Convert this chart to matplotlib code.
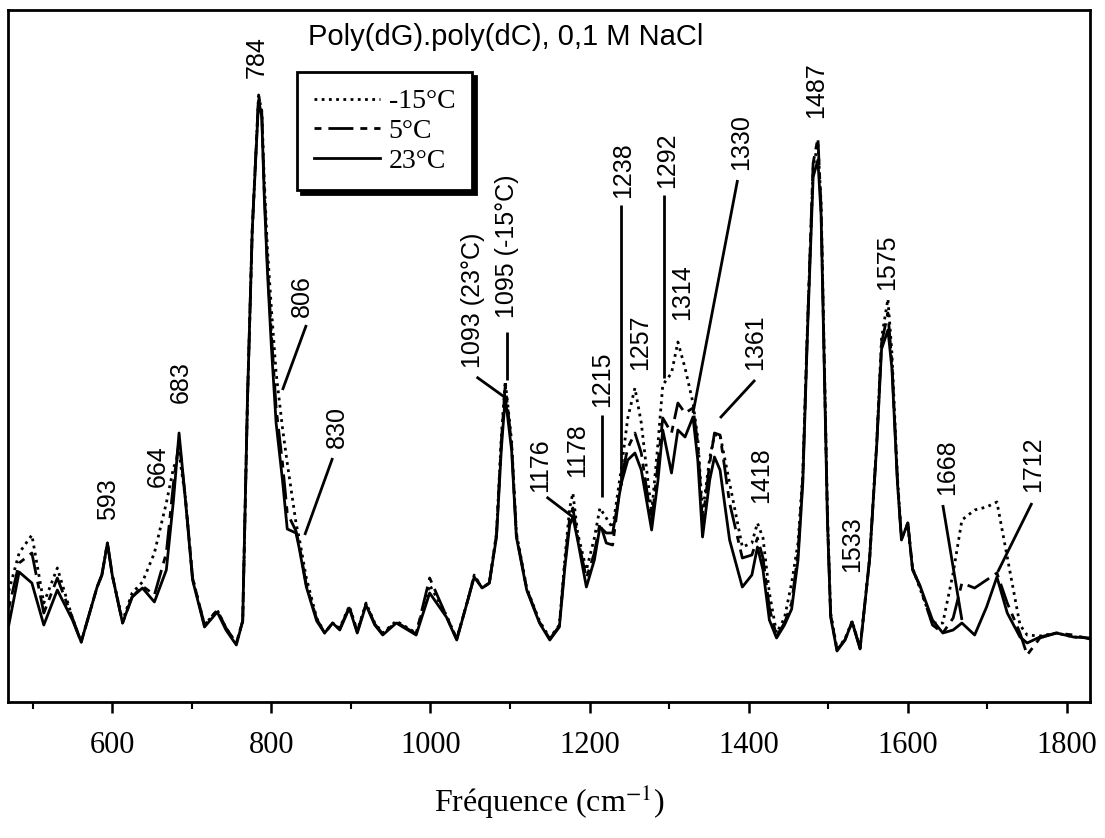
import matplotlib
matplotlib.use("Agg")
import matplotlib.pyplot as plt
from matplotlib.ticker import FixedLocator

plt.rcParams['mathtext.fontset'] = 'stix'

# wavenumber grid (cm-1)
freq = [470, 483, 499, 514, 531, 550, 561, 581, 587, 594, 600, 613, 625, 638, 653, 668,
        677, 684, 692, 701, 716, 732, 743, 756, 764, 770, 776, 784, 788, 791, 795, 800,
        806, 814, 820, 831, 835, 844, 857, 867, 877, 886, 898, 908, 919, 930, 940, 957,
        982, 999, 1020, 1033, 1047, 1055, 1065, 1074, 1083, 1089, 1094, 1102, 1108, 1121,
        1137, 1150, 1162, 1169, 1175, 1179, 1185, 1196, 1206, 1213, 1221, 1229, 1240, 1248,
        1257, 1265, 1278, 1286, 1292, 1303, 1311, 1320, 1330, 1336, 1342, 1351, 1357, 1364,
        1376, 1392, 1404, 1411, 1418, 1426, 1435, 1445, 1454, 1462, 1468, 1474, 1481, 1487,
        1491, 1495, 1499, 1503, 1511, 1521, 1530, 1540, 1552, 1561, 1567, 1575, 1580, 1587,
        1592, 1600, 1606, 1615, 1631, 1644, 1657, 1668, 1684, 1699, 1712, 1725, 1741, 1750,
        1766, 1787, 1808, 1829]

# 23 C (solid)
i_23 = [78, 131, 120, 78, 113, 83, 61, 116, 128, 160, 128, 80, 106, 115, 101, 133,
        203, 270, 203, 123, 76, 91, 73, 58, 82, 303, 473, 603, 586, 509, 433, 357,
        280, 223, 174, 170, 155, 116, 82, 70, 80, 73, 95, 70, 98, 78, 68, 80,
        68, 110, 86, 63, 103, 126, 115, 120, 166, 253, 306, 253, 166, 113,
        80, 63, 76, 136, 178, 186, 163, 116, 143, 176, 170, 170, 220, 243,
        250, 233, 173, 223, 273, 230, 273, 266, 286, 243, 166, 223, 246, 233,
        163, 116, 128, 156, 133, 83, 65, 78, 94, 143, 220, 373, 526, 543,
        488, 335, 182, 86, 52, 63, 81, 54, 144, 259, 354, 373, 335, 220,
        163, 180, 133, 118, 83, 70, 73, 80, 68, 96, 126, 90, 66, 60,
        66, 70, 66, 65]

# 5 C (dash-dot)
i_5 = [95, 140, 150, 90, 125, 85, 61, 116, 128, 160, 128, 80, 106, 117, 108, 150,
       220, 262, 205, 125, 78, 93, 75, 60, 82, 303, 473, 608, 590, 515, 440, 370,
       295, 240, 190, 172, 158, 118, 84, 70, 80, 74, 96, 71, 99, 79, 69, 81,
       69, 125, 87, 64, 103, 127, 115, 120, 168, 260, 318, 258, 168, 114,
       81, 64, 77, 140, 185, 195, 165, 125, 150, 180, 160, 158, 225, 255,
       270, 250, 180, 240, 285, 270, 300, 290, 295, 260, 180, 240, 270, 268,
       200, 145, 148, 165, 145, 95, 67, 80, 100, 150, 225, 378, 540, 565,
       495, 340, 185, 88, 53, 63, 81, 55, 144, 260, 360, 390, 340, 222,
       164, 180, 134, 117, 78, 70, 85, 120, 115, 123, 130, 100, 70, 48,
       65, 70, 68, 64]

# -15 C (dotted)
i_m15 = [112, 150, 168, 100, 135, 85, 61, 116, 128, 160, 128, 82, 110, 121, 150, 200,
         235, 250, 205, 125, 78, 93, 75, 60, 82, 303, 473, 607, 592, 525, 455, 395,
         330, 275, 240, 180, 165, 125, 85, 70, 80, 75, 97, 72, 100, 80, 70, 82,
         70, 118, 88, 64, 103, 128, 115, 120, 170, 265, 322, 262, 170, 115,
         82, 65, 78, 145, 195, 210, 170, 133, 165, 195, 185, 175, 235, 285,
         315, 280, 190, 260, 318, 330, 361, 335, 300, 265, 190, 245, 268, 268,
         220, 156, 160, 180, 165, 110, 70, 85, 120, 160, 230, 380, 535, 560,
         500, 345, 190, 90, 54, 64, 82, 55, 145, 262, 365, 404, 350, 225,
         166, 178, 135, 115, 80, 80, 130, 183, 193, 196, 201, 146, 78, 68,
         67, 70, 66, 65]

series_labels = ['-15°C', '5°C', '23°C']
major_ticks = [600, 800, 1000, 1200, 1400, 1600, 1800]
minor_ticks = [500, 700, 900, 1100, 1300, 1500, 1700]

# band labels: text, x, y of the text's lower end, optional leader line (from, to)
bands = [
    ('593', 595, 183, None),
    ('664', 657, 216, None),
    ('683', 686, 300, None),
    ('784', 782, 625, None),
    ('806', 838, 386, ((844, 378), (814, 313))),
    ('830', 882, 255, ((877, 245), (842, 168))),
    ('1093 (23°C)', 1054, 335, ((1058, 326), (1093, 306))),
    ('1095 (-15°C)', 1096, 385, ((1096, 371), (1096, 323))),
    ('1176', 1138, 211, ((1146, 206), (1179, 186))),
    ('1178', 1184, 226, None),
    ('1215', 1216, 296, ((1215, 288), (1215, 206))),
    ('1238', 1242, 505, ((1240, 498), (1240, 218))),
    ('1257', 1263, 333, None),
    ('1292', 1298, 515, ((1294, 508), (1294, 325))),
    ('1314', 1316, 383, None),
    ('1330', 1391, 533, ((1386, 523), (1330, 290))),
    ('1361', 1408, 333, ((1408, 323), (1364, 285))),
    ('1418', 1416, 200, None),
    ('1487', 1485, 585, None),
    ('1533', 1530, 131, None),
    ('1575', 1574, 413, None),
    ('1668', 1649, 208, ((1644, 198), (1668, 83))),
    ('1712', 1757, 211, ((1756, 200), (1713, 131))),
]

fig = plt.figure(figsize=(11.05, 8.38), dpi=100)
ax = fig.add_axes([8 / 1105, 136 / 838, 1082 / 1105, 692 / 838])

ax.plot(freq, i_m15, color='black', lw=2, linestyle=(0, (1, 1.6)), label=series_labels[0])
ax.plot(freq, i_5, color='black', lw=2, linestyle=(0, (2.5, 2.5, 9, 2.5)), label=series_labels[1])
ax.plot(freq, i_23, color='black', lw=2, linestyle='-', label=series_labels[2])

label_font = dict(family=['Liberation Sans', 'DejaVu Sans'], size=18)
for text, tx, ty, leader in bands:
    ax.text(tx, ty, text, rotation=90, ha='center', va='bottom', **label_font)
    if leader is not None:
        (x0, y0), (x1, y1) = leader
        ax.plot([x0, x1], [y0, y1], color='black', lw=2, solid_capstyle='butt')

ax.text(0.46, 0.961, 'Poly(dG).poly(dC), 0,1 M NaCl', transform=ax.transAxes,
        ha='center', va='center', family='Liberation Sans', fontsize=21)

leg = ax.legend(loc='upper left', bbox_to_anchor=(0.267, 0.910), borderaxespad=0,
                prop={'family': 'Liberation Serif', 'size': 20}, handlelength=2.4,
                handletextpad=0.3, labelspacing=0.15, borderpad=0.6,
                fancybox=False, edgecolor='black', framealpha=1,
                shadow={'ox': 3, 'oy': -3, 'facecolor': 'black', 'edgecolor': 'black', 'alpha': 1})
leg.get_frame().set_linewidth(2)

ax.set_xlim(469, 1829)
ax.set_ylim(1, 693)
ax.xaxis.set_major_locator(FixedLocator(major_ticks))
ax.xaxis.set_minor_locator(FixedLocator(minor_ticks))
ax.set_yticks([])
ax.tick_params(axis='x', which='major', direction='out', length=8, width=1.8, pad=13,
               labelsize=22)
ax.tick_params(axis='x', which='minor', direction='out', length=5, width=1.5)
for lab in ax.get_xticklabels():
    lab.set_family('Liberation Serif')
for sp in ax.spines.values():
    sp.set_linewidth(2)

ax.set_xlabel('Fréquence (cm$^{-1}$)', family='Liberation Serif', fontsize=23, labelpad=16)

fig.savefig('out.png', dpi=100)
